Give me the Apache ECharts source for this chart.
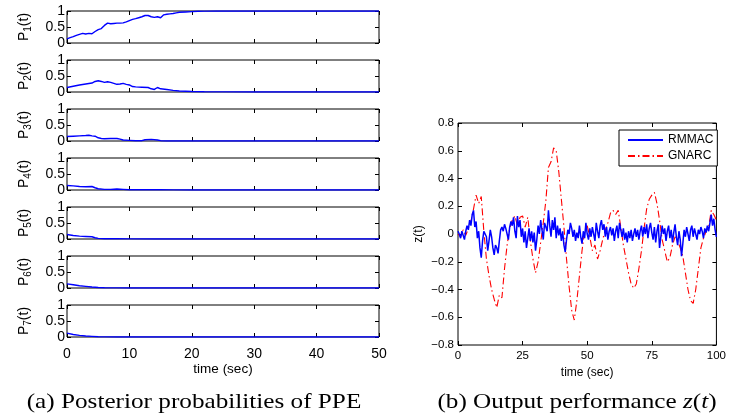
<!DOCTYPE html>
<html>
<head>
<meta charset="utf-8">
<script src="https://cdn.jsdelivr.net/npm/echarts@6/dist/echarts.min.js"></script>
<style>
  html, body { margin: 0; padding: 0; background: #fff; }
  #chart { width: 729px; height: 419px; }
</style>
</head>
<body>
<div id="chart"></div>
<script>
// posterior probabilities of the PPE models, [time (sec), probability]
const p1 = [[0,0.13],[0.5,0.17],[1,0.2],[1.5,0.24],[2,0.27],[2.5,0.3],[3,0.28],[3.5,0.3],[4,0.29],[4.5,0.36],
  [5,0.42],[5.5,0.45],[6,0.55],[6.5,0.62],[7,0.6],[7.5,0.61],[8,0.62],[8.5,0.62],[9,0.63],[9.5,0.66],
  [10,0.7],[10.5,0.74],[11,0.76],[11.5,0.79],[12,0.82],[12.5,0.86],[13,0.86],[13.5,0.82],[14,0.8],[14.5,0.82],
  [15,0.79],[15.5,0.88],[16,0.9],[16.5,0.91],[17,0.92],[17.5,0.94],[18,0.96],[19,0.97],[20,0.98],[21,0.99],
  [22,0.995],[24,1],[50,1]];
const p2 = [[0,0.14],[1,0.18],[2,0.22],[3,0.25],[4,0.28],[4.5,0.33],[5,0.35],[5.5,0.33],[6,0.3],[6.5,0.32],
  [7,0.3],[7.5,0.27],[8,0.24],[8.5,0.25],[9,0.27],[9.5,0.24],[10,0.22],[10.5,0.17],[11,0.16],[12,0.15],
  [13,0.14],[13.5,0.1],[14,0.08],[14.5,0.14],[15,0.1],[16,0.08],[17,0.05],[18,0.03],[20,0.015],[22,0.008],
  [25,0.003],[30,0],[50,0]];
const p3 = [[0,0.14],[1,0.15],[2,0.16],[3,0.17],[3.5,0.18],[4,0.16],[4.5,0.15],[5,0.1],[5.5,0.08],[6,0.07],
  [7,0.08],[8,0.08],[8.5,0.06],[9,0.03],[10,0.02],[11,0.01],[12,0.01],[12.5,0.04],[13.5,0.05],[14.5,0.03],
  [15,0.01],[16,0],[50,0]];
const p4 = [[0,0.14],[1,0.13],[2,0.11],[3,0.1],[4,0.11],[4.5,0.07],[5,0.04],[6,0.02],[7,0.02],[8,0.03],
  [9,0.02],[10,0.01],[12,0.01],[15,0.01],[17,0.003],[20,0],[50,0]];
const p5 = [[0,0.14],[1,0.11],[2,0.09],[3,0.08],[4,0.07],[4.5,0.04],[5,0.02],[6,0.01],[8,0.01],[10,0.005],
  [14,0],[50,0]];
const p6 = [[0,0.13],[1,0.1],[2,0.07],[3,0.05],[4,0.03],[5,0.015],[6,0.008],[8,0.003],[10,0],[50,0]];
const p7 = [[0,0.12],[1,0.08],[2,0.05],[3,0.03],[4,0.02],[5,0.01],[6,0.005],[8,0],[50,0]];
const ppeSeries = [p1, p2, p3, p4, p5, p6, p7];
const ppeTimeTicks = [0, 10, 20, 30, 40, 50];

// output performance z(t)
const rmmacStep = 0.5; // sec between samples
const rmmac = [
  0.02,0.0,-0.03,0.02,0.03,-0.04,0.02,0.06,0.03,0.1,0.06,0.14,0.17,0.05,0.09,-0.03,0.02,-0.1,-0.17,-0.05,
  0.02,0.03,-0.02,-0.12,-0.05,0.03,-0.02,-0.1,-0.15,-0.08,-0.1,-0.14,-0.05,0.03,0.05,0.02,0.07,0.04,0.0,-0.04,
  0.05,0.09,0.06,0.12,0.02,-0.03,0.13,0.05,0.1,-0.02,0.04,-0.06,0.02,-0.1,-0.03,0.04,-0.05,0.02,-0.06,0.01,
  -0.12,-0.04,0.06,0.0,0.1,0.03,-0.04,0.08,0.05,0.02,0.17,0.06,-0.02,0.1,0.03,0.12,-0.03,0.06,-0.01,0.04,
  -0.05,0.02,-0.08,-0.13,-0.04,0.03,0.0,0.08,0.04,-0.02,0.03,-0.05,0.01,-0.03,0.06,-0.02,-0.07,0.02,-0.03,0.08,
  0.0,-0.04,0.04,-0.02,0.05,0.0,-0.05,0.08,0.02,-0.03,0.06,0.1,0.03,0.07,-0.02,0.05,-0.04,0.02,0.05,-0.01,
  0.04,-0.05,0.02,0.06,-0.03,0.08,0.03,-0.02,0.04,-0.04,0.01,-0.06,0.02,-0.03,0.03,-0.05,0.0,0.04,-0.02,0.03,
  -0.04,0.02,0.06,-0.02,0.05,0.0,0.07,-0.03,0.04,0.08,0.01,-0.04,0.05,-0.06,0.02,0.07,-0.1,-0.02,0.06,0.0,
  0.04,-0.05,0.02,0.06,-0.03,0.03,-0.06,0.01,0.07,-0.02,-0.08,0.02,-0.04,-0.16,-0.07,0.03,-0.02,0.05,0.0,-0.05,
  0.03,0.06,-0.02,0.04,0.0,-0.04,0.03,0.0,0.05,0.02,-0.03,0.04,0.01,0.06,0.02,0.08,0.14,0.06,0.11,0.03,-0.02];
const gnarcStep = 1; // sec between samples
const gnarc = [
  0.0,-0.02,0.03,-0.01,0.04,0.09,0.18,0.28,0.22,0.27,0.02,-0.18,-0.3,-0.4,-0.47,-0.53,-0.44,-0.46,-0.25,-0.08,
  0.04,0.1,0.13,0.06,0.12,0.13,0.05,0.12,-0.05,-0.18,-0.28,-0.2,-0.06,0.08,0.24,0.48,0.52,0.62,0.6,0.45,
  0.25,0.05,-0.18,-0.38,-0.55,-0.62,-0.48,-0.3,-0.12,0.02,0.06,-0.02,-0.12,-0.08,-0.18,-0.12,-0.04,0.03,0.08,0.15,
  0.17,0.14,0.17,0.05,-0.08,-0.18,-0.28,-0.36,-0.39,-0.36,-0.25,-0.12,0.04,0.18,0.25,0.28,0.3,0.22,0.1,-0.04,
  -0.12,-0.2,-0.17,-0.08,-0.02,-0.05,-0.1,-0.16,-0.28,-0.4,-0.48,-0.5,-0.4,-0.25,-0.1,-0.03,0.02,0.05,0.17,0.14,
  0.1];
const zTimeTicks = [0, 25, 50, 75, 100];
const zTicks = [-0.8, -0.6, -0.4, -0.2, 0, 0.2, 0.4, 0.6, 0.8];

const chart = echarts.init(document.getElementById('chart'));
const FONT = 'Liberation Sans, Arial, Helvetica, sans-serif';
const SERIF = '"Liberation Serif", "Times New Roman", serif';
const BLUE = '#0000ff';
const RED = '#ff0000';

function tickOpts() {
  return { show: true, inside: true, length: 4, lineStyle: { color: '#000', width: 1 } };
}
// keep the mirrored axes on the box edges, not on zero
const noLine = { show: false, onZero: false };
function withTime(data, step) {
  return data.map((v, i) => [i * step, v]);
}
const minus = v => String(v).replace('-', '\u2212');

const grids = [];
const xAxes = [];
const yAxes = [];
const series = [];

// left: seven stacked probability panels
const panelTop = 11, panelGap = 49, panelH = 32;
ppeSeries.forEach((data, i) => {
  grids.push({ left: 67, top: panelTop + i * panelGap, width: 312, height: panelH,
    show: true, borderColor: '#000', borderWidth: 1, backgroundColor: '#fff' });
  const last = i === ppeSeries.length - 1;
  const xBase = { type: 'value', gridIndex: i, min: ppeTimeTicks[0], max: ppeTimeTicks[ppeTimeTicks.length - 1],
    interval: 10, splitLine: { show: false }, axisLine: noLine, axisTick: tickOpts() };
  xAxes.push(Object.assign({}, xBase, {
    position: 'bottom',
    axisLabel: { show: last, color: '#000', fontFamily: FONT, fontSize: 14, margin: 10 },
    name: last ? 'time (sec)' : '', nameLocation: 'middle', nameGap: 25,
    nameTextStyle: { color: '#000', fontFamily: FONT, fontSize: 13.5 }
  }));
  xAxes.push(Object.assign({}, xBase, { position: 'top', axisLabel: { show: false } }));
  const yBase = { type: 'value', gridIndex: i, min: 0, max: 1, interval: 0.5,
    splitLine: { show: false }, axisLine: noLine, axisTick: tickOpts() };
  yAxes.push(Object.assign({}, yBase, {
    position: 'left',
    axisLabel: { color: '#000', fontFamily: FONT, fontSize: 14, margin: 2 },
    name: '{n|P}{s|' + (i + 1) + '}{n|(t)}', nameLocation: 'middle', nameRotate: 90, nameGap: 34,
    nameTextStyle: { color: '#000', fontFamily: FONT,
      rich: { n: { fontSize: 14, fontFamily: FONT, color: '#000' },
              s: { fontSize: 10, fontFamily: FONT, color: '#000', padding: [8, 0, 0, 0] } } }
  }));
  yAxes.push(Object.assign({}, yBase, { position: 'right', axisLabel: { show: false } }));
  series.push({ type: 'line', xAxisIndex: 2 * i, yAxisIndex: 2 * i, data: data,
    symbol: 'none', silent: true,
    lineStyle: { color: BLUE, width: 1.4 } });
});

// right: output performance
const gz = grids.length;
grids.push({ left: 458, top: 123, width: 263, height: 222,
  show: true, borderColor: '#000', borderWidth: 1, backgroundColor: '#fff' });
const zxBase = { type: 'value', gridIndex: gz, min: zTimeTicks[0], max: zTimeTicks[zTimeTicks.length - 1],
  interval: 25, splitLine: { show: false }, axisLine: noLine, axisTick: tickOpts() };
xAxes.push(Object.assign({}, zxBase, {
  position: 'bottom',
  axisLabel: { color: '#000', fontFamily: FONT, fontSize: 11.5, margin: 5 },
  name: 'time (sec)', nameLocation: 'middle', nameGap: 19,
  nameTextStyle: { color: '#000', fontFamily: FONT, fontSize: 12 }
}));
xAxes.push(Object.assign({}, zxBase, { position: 'top', axisLabel: { show: false } }));
const zyBase = { type: 'value', gridIndex: gz, min: zTicks[0], max: zTicks[zTicks.length - 1], interval: 0.2,
  splitLine: { show: false }, axisLine: noLine, axisTick: tickOpts() };
yAxes.push(Object.assign({}, zyBase, {
  position: 'left',
  axisLabel: { color: '#000', fontFamily: FONT, fontSize: 11.5, margin: 4, formatter: minus },
  name: 'z(t)', nameLocation: 'middle', nameRotate: 90, nameGap: 33,
  nameTextStyle: { color: '#000', fontFamily: FONT, fontSize: 12 }
}));
yAxes.push(Object.assign({}, zyBase, { position: 'right', axisLabel: { show: false } }));
series.push({ name: 'RMMAC', type: 'line', xAxisIndex: 2 * gz, yAxisIndex: 2 * gz,
  data: withTime(rmmac, rmmacStep), symbol: 'none', silent: true, z: 3,
  lineStyle: { color: BLUE, width: 1.5 }, itemStyle: { color: BLUE } });
series.push({ name: 'GNARC', type: 'line', xAxisIndex: 2 * gz, yAxisIndex: 2 * gz,
  data: withTime(gnarc, gnarcStep), symbol: 'none', silent: true, z: 2,
  lineStyle: { color: RED, width: 1.1, type: [7, 3, 1.5, 3] }, itemStyle: { color: RED } });

chart.setOption({
  animation: false,
  backgroundColor: '#fff',
  grid: grids,
  xAxis: xAxes,
  yAxis: yAxes,
  series: series,
  legend: {
    data: ['RMMAC', 'GNARC'], orient: 'vertical', left: 619, top: 130,
    backgroundColor: '#fff', borderColor: '#000', borderWidth: 1, borderRadius: 0,
    padding: [4, 4, 4, 8], itemGap: 4, itemWidth: 35, itemHeight: 12,
    itemStyle: { opacity: 0 },
    textStyle: { color: '#000', fontFamily: FONT, fontSize: 12 }
  },
  graphic: [
    { type: 'text', x: 194, y: 402, scaleX: 1.2, style: {
      text: '(a) Posterior probabilities of PPE', fill: '#000',
      font: '21px ' + SERIF, align: 'center', verticalAlign: 'middle' } },
    { type: 'text', x: 577, y: 402, scaleX: 1.2, style: {
      text: '{n|(b) Output performance }{i|z}{n|(}{i|t}{n|)}',
      align: 'center', verticalAlign: 'middle',
      rich: {
        n: { fill: '#000', fontFamily: SERIF, fontSize: 21 },
        i: { fill: '#000', fontFamily: SERIF, fontSize: 21, fontStyle: 'italic' }
      } } }
  ]
});
</script>
</body>
</html>
